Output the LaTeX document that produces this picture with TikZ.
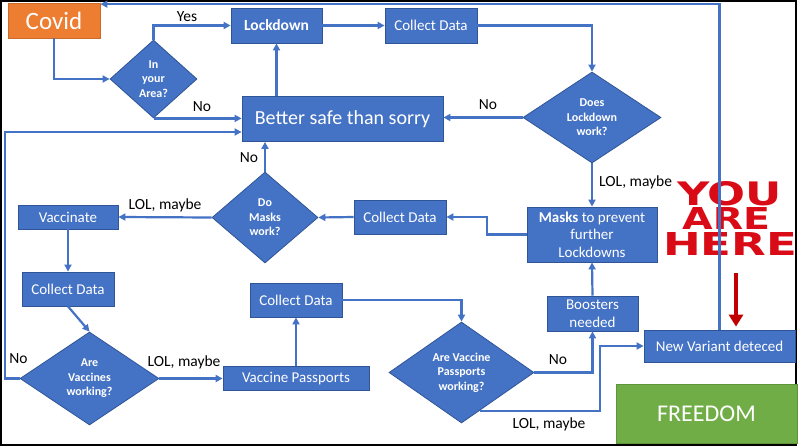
\documentclass[tikz,border=0pt]{standalone}
\usepackage{fontspec}
\setmainfont{Carlito}
\newfontfamily\heavyfont{DejaVu Sans}
\usetikzlibrary{shapes.geometric,arrows.meta,calc}
\definecolor{ofblue}{HTML}{4472C4}
\definecolor{ofedge}{HTML}{2F5597}
\definecolor{oforange}{HTML}{ED7D31}
\definecolor{ofgreen}{HTML}{70AD47}
\definecolor{yahred}{HTML}{D90B16}
\definecolor{arrred}{HTML}{C00000}
\begin{document}
\begin{tikzpicture}[x=1pt,y=-1pt,
 flowbox/.style={rectangle,fill=ofblue,draw=ofedge,line width=0.8pt,text=white,inner sep=0pt,font=\fontsize{15}{17.5}\selectfont,align=center},
 decide/.style={diamond,fill=ofblue,draw=ofedge,line width=0.8pt,text=white,inner sep=0pt,font=\fontsize{12}{14.5}\selectfont\bfseries,align=center},
 conn/.style={draw=ofblue,line width=2.2pt,-{Triangle[length=7pt,width=7pt]}},
 lbl/.style={font=\fontsize{15.5}{18}\selectfont,text=black,inner sep=0pt},
 yah/.style={inner sep=0pt,text=yahred,anchor=north west,font=\heavyfont\bfseries},
]
\useasboundingbox (0,0) rectangle (800,447);
\fill[white] (0,0) rectangle (800,447);
\draw[black,line width=1.5pt] (1,1) rectangle (796,445);

% nodes
\node[flowbox,fill=oforange,draw=oforange!85!black,minimum width=92pt,minimum height=35pt,font=\fontsize{25}{28}\selectfont] (covid) at (54,20.5) {Covid};
\node[decide,minimum width=87pt,minimum height=78pt] (area) at (153.5,79) {In\\your\\Area?};
\node[flowbox,minimum width=91pt,minimum height=35pt,font=\fontsize{15.5}{17.5}\selectfont\bfseries] (lock) at (276.5,25.5) {Lockdown};
\node[flowbox,minimum width=92pt,minimum height=35pt] (cd1) at (431,25.5) {Collect Data};
\node[decide,minimum width=138pt,minimum height=91pt] (dlw) at (592,117.5) {Does\\Lockdown\\work?};
\node[flowbox,minimum width=201pt,minimum height=45pt,font=\fontsize{20}{24}\selectfont] (better) at (342.5,119) {Better safe than sorry};
\node[decide,minimum width=106pt,minimum height=91pt] (dmw) at (265,217.5) {Do\\Masks\\work?};
\node[flowbox,minimum width=92pt,minimum height=34pt] (cd2) at (400,217) {Collect Data};
\node[flowbox,minimum width=130pt,minimum height=55pt] (mprev) at (592,234.5) {\textbf{Masks} to prevent\\further\\Lockdowns};
\node[flowbox,minimum width=100pt,minimum height=24pt] (vacc) at (68,217) {Vaccinate};
\node[flowbox,minimum width=92pt,minimum height=34pt] (cd3) at (68,289) {Collect Data};
\node[decide,minimum width=139pt,minimum height=93pt] (vw) at (89.5,378.5) {Are\\Vaccines\\working?};
\node[flowbox,minimum width=146pt,minimum height=24pt] (vp) at (296,378.5) {Vaccine Passports};
\node[flowbox,minimum width=92pt,minimum height=34pt] (cd4) at (296,300) {Collect Data};
\node[decide,minimum width=145pt,minimum height=101pt] (pv) at (461.5,372.5) {Are Vaccine\\Passports\\working?};
\node[flowbox,minimum width=91pt,minimum height=35pt] (boost) at (592.5,313.5) {Boosters\\needed};
\node[flowbox,minimum width=151pt,minimum height=32pt] (nv) at (719.5,346) {New Variant deteced};
\node[flowbox,fill=ofgreen,draw=ofgreen!85!black,minimum width=181pt,minimum height=59pt,font=\fontsize{24}{28}\selectfont] (free) at (706.5,413.5) {FREEDOM};

% YOU ARE HERE
\node[yah] (yah) at (663,181) {\vbox{\offinterlineskip
  \hbox{\hspace*{14pt}\resizebox{105pt}{24pt}{YOU}}\vskip2pt
  \hbox{\hspace*{19pt}\resizebox{88pt}{22pt}{ARE}}\vskip3pt
  \hbox{\resizebox{134pt}{23pt}{HERE}}}};

% coordinates
\coordinate (lp) at (5,132);
\coordinate (pvx) at ($(pv.south)!0.25!(pv.east)$);
\coordinate (yahtop) at (736,273);

% connectors
\draw[conn] (covid.south) |- (area.west);
\draw[conn] (area.north) |- (lock.west);
\draw[conn] (area.south) -- (area.south -| better.west);
\draw[conn] (lock.east) -- (cd1.west);
\draw[conn] (cd1.east) -| (dlw.north);
\draw[conn] (dlw.west) -- (dlw.west -| better.east);
\draw[conn] (better.north -| lock.south) -- (lock.south);
\draw[conn] (dlw.south) -- (mprev.north);
\draw[conn] (mprev.west) -- ++(-40,0) |- (cd2.east);
\draw[conn] (cd2.west) -- (dmw.east);
\draw[conn] (dmw.north) -- (dmw.north |- better.south);
\draw[conn] (dmw.west) -- (vacc.east);
\draw[conn] (vacc.south) -- (vacc.south |- cd3.north);
\draw[conn] (cd3.south) -- (vw.north);
\draw[conn] (vw.west) -| (lp) -- (lp -| better.west);
\draw[conn] (vw.east) -- (vp.west);
\draw[conn] (vp.north) -- (vp.north |- cd4.south);
\draw[conn] (cd4.east) -| (pv.north);
\draw[conn] (pv.east) -| (boost.south);
\draw[conn] (pvx) -- ++(120,0) |- (nv.west);
\draw[conn] (boost.north) -- (mprev.south);
\draw[conn] (nv.north) |- ([yshift=-1.5pt]covid.north east);

\draw[arrred,line width=3.5pt,-{Triangle[length=12pt,width=14pt]}] (yahtop) -- ([yshift=3pt]yahtop |- nv.north);

% labels
\node[lbl] (lyes) at (187,17) {Yes};
\node[lbl] (lno1) at (202,107) {No};
\node[lbl] (lno2) at (488,105) {No};
\node[lbl,anchor=west] (llol1) at (599,182) {LOL, maybe};
\node[lbl] (lno3) at (249,158) {No};
\node[lbl] (llol2) at (165,205) {LOL, maybe};
\node[lbl] (lno4) at (18.5,359) {No};
\node[lbl] (llol3) at (184,362) {LOL, maybe};
\node[lbl] (lno5) at (558,360) {No};
\node[lbl] (llol4) at (549,424) {LOL, maybe};
\end{tikzpicture}
\end{document}
